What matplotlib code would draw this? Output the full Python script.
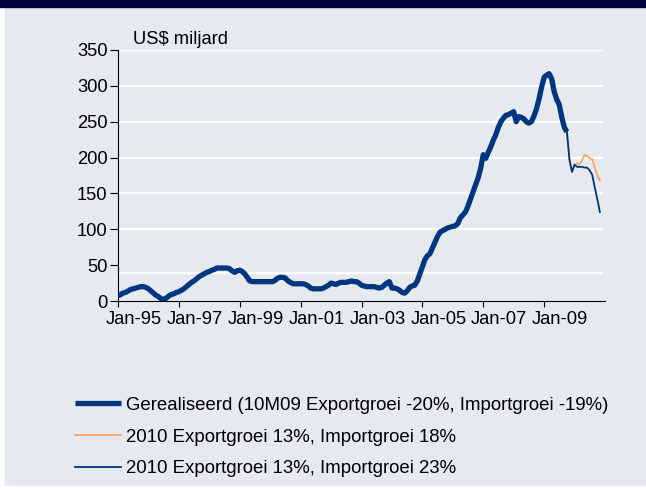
import matplotlib
matplotlib.use("Agg")
import matplotlib.pyplot as plt
import matplotlib.transforms as mtransforms
import pandas as pd
from matplotlib.patches import Rectangle

# gerealiseerd, maandelijks jan-95 t/m okt-09 (US$ miljard)
realized = [
    7, 9, 11, 12, 14, 16, 17, 18, 19, 20, 20, 19,
    17, 14, 11, 8, 6, 3, 2, 4, 7, 9, 10, 12,
    13, 15, 17, 20, 23, 26, 28, 31, 34, 36, 38, 40,
    41, 43, 44, 46, 46, 46, 46, 46, 45, 42, 40, 42,
    43, 41, 38, 33, 28, 27, 27, 27, 27, 27, 27, 27,
    27, 27, 29, 32, 33, 33, 32, 28, 26, 24, 24, 24,
    24, 24, 23, 21, 18, 17, 17, 17, 17, 18, 20, 22,
    25, 24, 23, 25, 26, 26, 26, 27, 28, 27, 27, 25,
    22, 21, 20, 20, 20, 20, 19, 18, 19, 22, 25, 27,
    18, 18, 17, 15, 12, 11, 14, 19, 21, 22, 28, 38,
    48, 58, 63, 66, 74, 82, 90, 96, 98, 100, 102, 103,
    104, 105, 108, 116, 120, 124, 132, 142, 152, 162, 172, 185,
    204, 199, 207, 215, 224, 232, 242, 250, 255, 259, 260, 262,
    264, 250, 257, 256, 254, 250, 248, 250, 258, 268, 282, 298,
    312, 315, 317, 310, 292, 281, 274, 256, 242, 236,
]
# scenario's okt-09 t/m nov-10
scen_18 = [236, 197, 180, 190, 192, 190, 196, 204, 202, 199, 198, 186, 175, 168]
scen_23 = [236, 197, 180, 190, 187, 187, 187, 186, 186, 182, 176, 158, 142, 124]

labels = ["Gerealiseerd (10M09 Exportgroei -20%, Importgroei -19%)",
          "2010 Exportgroei 13%, Importgroei 18%",
          "2010 Exportgroei 13%, Importgroei 23%"]
tick_years = ["1995", "1997", "1999", "2001", "2003", "2005", "2007", "2009"]
tick_labels = ["Jan-95", "Jan-97", "Jan-99", "Jan-01", "Jan-03", "Jan-05", "Jan-07", "Jan-09"]
yticks = [0, 50, 100, 150, 200, 250, 300, 350]
grid_vals = [39, 100, 150, 200, 250, 300, 350]

navy = "#003580"
orange = "#f9a469"
bg = "#e6e9ee"

plt.rcParams["font.family"] = ["Liberation Sans", "DejaVu Sans"]

d_real = pd.date_range("1995-01-01", periods=len(realized), freq="MS")
d_scen = pd.date_range("2009-10-01", periods=len(scen_18), freq="MS")

fig = plt.figure(figsize=(6.46, 4.92), dpi=100, facecolor="white")
fig.patches.append(Rectangle((0.0077, 0.0142), 0.9923, 0.9716, transform=fig.transFigure,
                             color=bg, zorder=-10))
fig.patches.append(Rectangle((0, 0.9858), 1, 0.0142, transform=fig.transFigure,
                             color="#00003a", zorder=-10))
ax = fig.add_axes([0.1827, 0.3882, 0.7538, 0.5102], facecolor=bg)
ax.set_zorder(1)

for g in grid_vals:
    ax.axhline(g, xmax=0.993, color="white", lw=1.6, zorder=1)

l1, = ax.plot(d_real, realized, color=navy, lw=3.8, solid_capstyle="butt", zorder=3)
l2, = ax.plot(d_scen, scen_18, color=orange, lw=1.3, zorder=2)
l3, = ax.plot(d_scen, scen_23, color=navy, lw=1.3, zorder=4)

ax.set_xlim(pd.Timestamp("1995-01-01"), pd.Timestamp("2011-01-01"))
ax.set_ylim(0, 350)
ax.set_yticks(yticks)
ax.set_xticks([pd.Timestamp(y + "-01-01") for y in tick_years])
ax.set_xticklabels(tick_labels)
ax.tick_params(labelsize=13.2, width=0.8)
ax.tick_params(axis="y", length=5.5, pad=2)
ax.tick_params(axis="x", length=4, pad=3)
for s in ["top", "right"]:
    ax.spines[s].set_visible(False)
ax.spines["left"].set_linewidth(0.8)
ax.spines["bottom"].set_linewidth(0.8)

# labels staan iets rechts van de streepjes
shift = mtransforms.ScaledTranslation(16 / 100, 0, fig.dpi_scale_trans)
for lab in ax.get_xticklabels():
    lab.set_transform(lab.get_transform() + shift)

ax.text(0.03, 1.024, "US$ miljard", transform=ax.transAxes, fontsize=13.2, va="baseline")

fig.legend([l1, l2, l3], labels, loc="upper left", bbox_to_anchor=(0.104, 0.209),
           frameon=False, fontsize=13.4, handlelength=2.5, handletextpad=0.27,
           labelspacing=0.8, borderaxespad=0)

fig.savefig("out.png", dpi=100, facecolor="white")
